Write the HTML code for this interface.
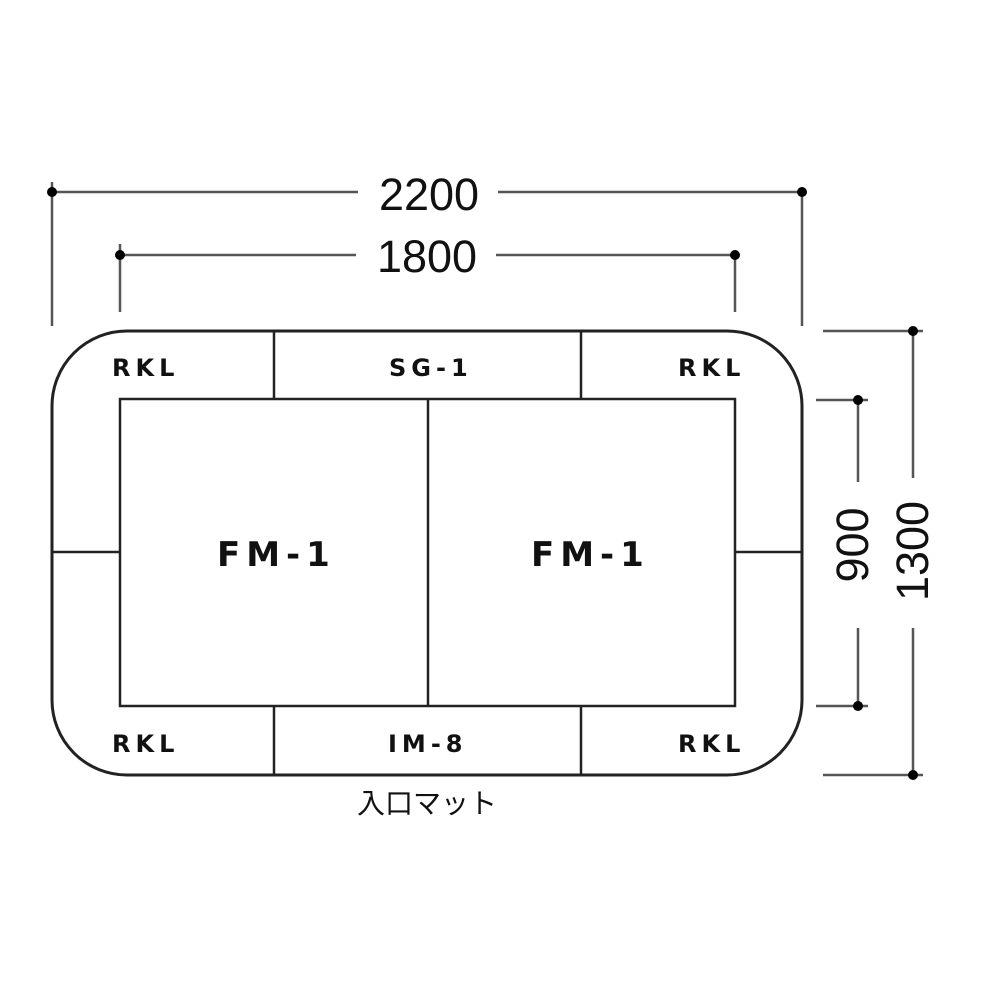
<!DOCTYPE html>
<html><head><meta charset="utf-8"><style>
html,body{margin:0;padding:0;background:#fff;}
</style></head><body>
<svg width="1000" height="1000" viewBox="0 0 1000 1000" xmlns="http://www.w3.org/2000/svg">
<g stroke="#555" stroke-width="2.5" fill="none">
<line x1="52" y1="192" x2="358" y2="192"/>
<line x1="498" y1="192" x2="802" y2="192"/>
<line x1="52" y1="182" x2="52" y2="326"/>
<line x1="802" y1="192" x2="802" y2="326"/>
<line x1="120" y1="255" x2="356" y2="255"/>
<line x1="496" y1="255" x2="735" y2="255"/>
<line x1="120" y1="244" x2="120" y2="312"/>
<line x1="735" y1="255" x2="735" y2="312"/>
<line x1="823" y1="331" x2="923" y2="331"/>
<line x1="823" y1="775" x2="923" y2="775"/>
<line x1="913" y1="331" x2="913" y2="478"/>
<line x1="913" y1="628" x2="913" y2="775"/>
<line x1="816" y1="400" x2="868" y2="400"/>
<line x1="816" y1="706" x2="868" y2="706"/>
<line x1="858" y1="400" x2="858" y2="482"/>
<line x1="858" y1="628" x2="858" y2="706"/>
</g>
<g fill="#000">
<circle cx="52" cy="192" r="5"/><circle cx="802" cy="192" r="5"/>
<circle cx="120" cy="255" r="5"/><circle cx="735" cy="255" r="5"/>
<circle cx="913" cy="331" r="5"/><circle cx="913" cy="775" r="5"/>
<circle cx="858" cy="400" r="5"/><circle cx="858" cy="706" r="5"/>
</g>
<g stroke="#222" stroke-width="2.5" fill="none">
<rect x="52" y="331" width="750" height="444" rx="75" ry="75" stroke-width="3"/>
<rect x="120" y="399" width="615" height="307"/>
<line x1="428" y1="399" x2="428" y2="706"/>
<line x1="274" y1="331" x2="274" y2="399"/>
<line x1="581" y1="331" x2="581" y2="399"/>
<line x1="274" y1="706" x2="274" y2="775"/>
<line x1="581" y1="706" x2="581" y2="775"/>
<line x1="52" y1="552" x2="120" y2="552"/>
<line x1="735" y1="552" x2="802" y2="552"/>
</g>
<g font-family="Liberation Sans, sans-serif" fill="#111" text-anchor="middle">
<text x="429" y="210" font-size="45">2200</text>
<text x="427" y="272" font-size="45">1800</text>
<text transform="translate(868,545) rotate(-90)" font-size="45">900</text>
<text transform="translate(928,551) rotate(-90)" font-size="45">1300</text>
</g>
<g font-family="DejaVu Sans, sans-serif" font-weight="bold" fill="#111">
<text x="112" y="376" font-size="24" letter-spacing="5">RKL</text>
<text x="678" y="376" font-size="24" letter-spacing="5">RKL</text>
<text x="112" y="752" font-size="24" letter-spacing="5">RKL</text>
<text x="678" y="752" font-size="24" letter-spacing="5">RKL</text>
<text x="389" y="376" font-size="24" letter-spacing="5">SG-1</text>
<text x="388" y="752" font-size="24" letter-spacing="5">IM-8</text>
<text x="217" y="566" font-size="34" letter-spacing="6">FM-1</text>
<text x="531" y="566" font-size="34" letter-spacing="6">FM-1</text>
</g>
<text x="427" y="813" font-family="Liberation Sans, Noto Sans CJK JP, sans-serif" font-size="28" text-anchor="middle" fill="#111">入口マット</text>
</svg>
</body></html>
